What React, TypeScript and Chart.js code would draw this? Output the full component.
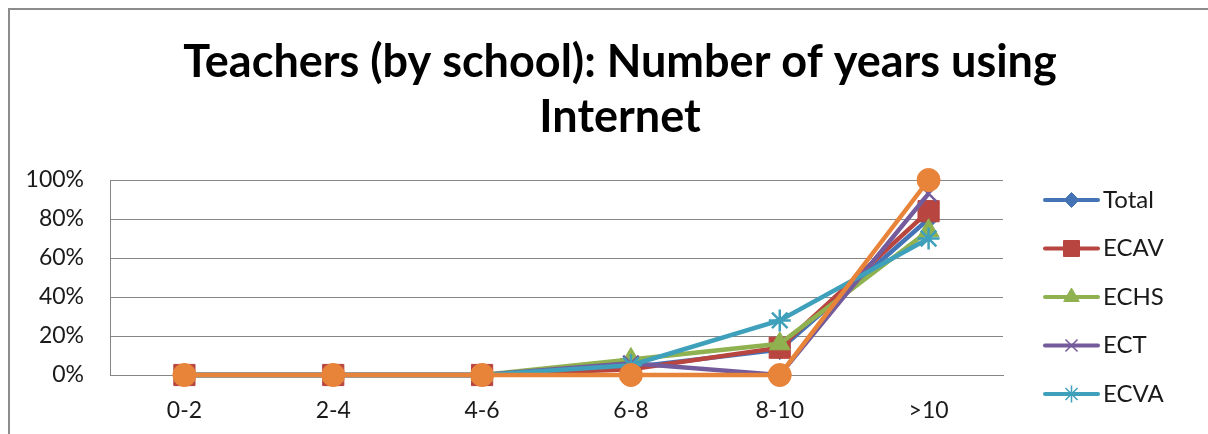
import React, { useEffect, useRef } from 'react';
import { Chart, registerables } from 'chart.js';
import { drawPoint } from 'chart.js/helpers';

Chart.register(...registerables);

const titleLines = ['Teachers (by school): Number of years using', 'Internet'];
const categories = ['0-2', '2-4', '4-6', '6-8', '8-10', '>10'];
const seriesNames = ['Total', 'ECAV', 'ECHS', 'ECT', 'ECVA', 'ECSA'];
const totalValues = [0, 0, 0, 4, 13, 80];
const ecavValues = [0, 0, 0, 3, 14, 84];
const echsValues = [0, 0, 0, 8, 16, 74];
const ectValues = [0, 0, 0, 6, 0, 93];
const ecvaValues = [0, 0, 0, 5, 28, 70];
const sixthValues = [0, 0, 0, 0, 0, 100];
const yTicks = [0, 20, 40, 60, 80, 100];

const seriesValues = [totalValues, ecavValues, echsValues, ectValues, ecvaValues, sixthValues];
const colors = ['#4574B6', '#B8453F', '#8FB14F', '#745B9B', '#3FA0BB', '#E8843A'];
const pointStyles = ['rectRot', 'rect', 'triangle', 'crossRot', 'star', 'circle'];
const pointRadii = [10, 15, 12, 11, 11, 11.5];
const pointBorders = [1, 1, 1, 2.5, 2.5, 1];
const legendRadii = [7.5, 11.3, 9, 8.5, 8.5, 8];

const FONT = 'Lato, "DejaVu Sans", sans-serif';

function drawMarker(ctx: CanvasRenderingContext2D, style: string, radius: number, x: number, y: number) {
  drawPoint(ctx, { pointStyle: style as any, rotation: 0, radius, borderWidth: ctx.lineWidth } as any, x, y);
}

const legendPlugin = {
  id: 'excelLegend',
  afterDraw(chart: any) {
    const ctx = chart.ctx;
    const area = chart.chartArea;
    const x0 = area.right + 42;
    const lineLen = 53;
    const yStart = 191;
    const step = 48.5;
    ctx.save();
    chart.data.datasets.forEach((ds: any, i: number) => {
      const y = yStart + i * step;
      if (y + 14 > chart.height) return;
      ctx.strokeStyle = ds.borderColor;
      ctx.lineWidth = 4;
      ctx.lineCap = 'round';
      ctx.beginPath();
      ctx.moveTo(x0, y);
      ctx.lineTo(x0 + lineLen, y);
      ctx.stroke();
      ctx.lineCap = 'butt';
      ctx.fillStyle = ds.pointBackgroundColor;
      ctx.strokeStyle = ds.pointBorderColor;
      ctx.lineWidth = ds.pointBorderWidth > 1 ? 1.5 : 1;
      drawMarker(ctx, ds.pointStyle, legendRadii[i], x0 + lineLen / 2, y);
      ctx.fillStyle = '#1a1a1a';
      ctx.font = '24px ' + FONT;
      ctx.textBaseline = 'middle';
      ctx.textAlign = 'left';
      ctx.fillText(ds.label, x0 + lineLen + 5, y);
    });
    ctx.restore();
  },
};

export default function App() {
  const canvasRef = useRef<HTMLCanvasElement | null>(null);

  useEffect(() => {
    if (!canvasRef.current) return;
    const chart = new Chart(canvasRef.current, {
      type: 'line',
      data: {
        labels: categories,
        datasets: seriesValues.map((vals, i) => ({
          label: seriesNames[i],
          data: vals,
          borderColor: colors[i],
          backgroundColor: colors[i],
          borderWidth: 4.5,
          pointStyle: pointStyles[i] as any,
          pointRadius: pointRadii[i],
          pointHoverRadius: pointRadii[i],
          pointBackgroundColor: colors[i],
          pointBorderColor: colors[i],
          pointBorderWidth: pointBorders[i],
          tension: 0,
          clip: false as any,
          order: seriesValues.length - i,
          yAxisID: 'y',
        })),
      },
      options: {
        animation: false,
        responsive: false,
        maintainAspectRatio: false,
        layout: { padding: 0 },
        plugins: {
          legend: { display: false },
          tooltip: { enabled: false },
          title: {
            display: true,
            text: titleLines,
            color: '#000',
            font: { family: FONT, size: 45, weight: 'bold', lineHeight: 55 / 45 },
            padding: { top: 25.5, bottom: 35.5 },
          },
        },
        scales: {
          x: {
            type: 'category',
            offset: true,
            grid: { display: false, drawTicks: false },
            border: { display: true, color: '#868686', width: 1 },
            ticks: {
              color: '#1a1a1a',
              font: { family: FONT, size: 23 },
              padding: 22,
            },
            afterFit: (scale: any) => {
              scale.height = 59;
            },
          },
          y: {
            position: 'left',
            min: 0,
            max: 100,
            afterBuildTicks: (scale: any) => {
              scale.ticks = yTicks.map((v) => ({ value: v }));
            },
            grid: { color: '#868686', lineWidth: 1, drawTicks: false },
            border: { display: true, color: '#868686', width: 1 },
            ticks: {
              color: '#1a1a1a',
              font: { family: FONT, size: 23 },
              padding: 26,
              callback: (v: any) => v + '%',
            },
            afterFit: (scale: any) => {
              scale.width = 102;
            },
          },
          legendSpace: {
            type: 'linear',
            position: 'right',
            display: true,
            grid: { display: false, drawTicks: false },
            border: { display: false },
            ticks: { display: false },
            afterFit: (scale: any) => {
              scale.width = 229;
            },
          },
        },
      },
      plugins: [legendPlugin],
    });
    return () => chart.destroy();
  }, []);

  return (
    <div style={{ position: 'fixed', left: 0, top: 0, width: 1208, height: 434, overflow: 'hidden', background: '#fff' }}>
      <div
        style={{
          position: 'absolute',
          left: 8,
          top: 8,
          width: 1400,
          height: 600,
          borderLeft: '2px solid #8c8c8c',
          borderTop: '2px solid #8c8c8c',
          boxSizing: 'border-box',
        }}
      />
      <canvas
        ref={canvasRef}
        width={1224}
        height={425}
        style={{ position: 'absolute', left: 8, top: 9, width: 1224, height: 425 }}
      />
    </div>
  );
}
